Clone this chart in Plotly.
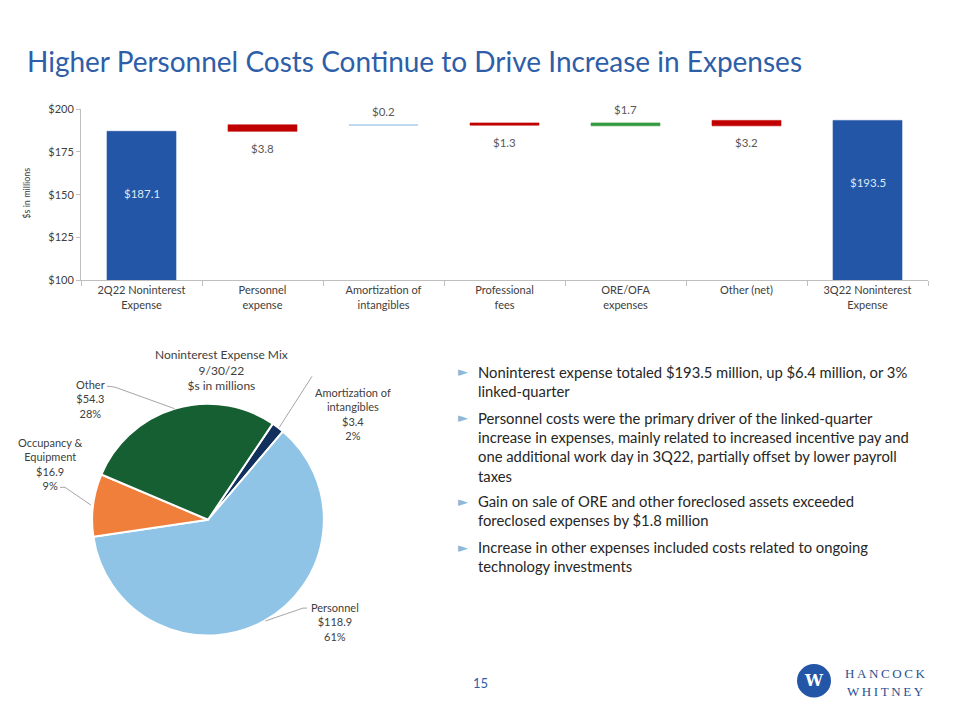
import math
import plotly.graph_objects as go

W, H = 960, 720
OFF = 8  # the page puts the figure 8px in from the top-left corner

# waterfall data ($ millions)
categories = ["2Q22 Noninterest<br>Expense", "Personnel<br>expense", "Amortization of<br>intangibles",
              "Professional<br>fees", "ORE/OFA<br>expenses", "Other (net)", "3Q22 Noninterest<br>Expense"]
start_total = 187.1
changes = [3.8, -0.2, 1.3, -1.7, 3.2]
end_total = 193.5
bar_colors = ["#2356a6", "#c00000", "#9dc3e6", "#c00000", "#339a3f", "#c00000", "#2356a6"]
y_ticks = [100, 125, 150, 175, 200]
y_tick_text = ["$100", "$125", "$150", "$175", "$200"]

# pie data
pie_labels = ["Amortization of<br>intangibles", "Personnel", "Occupancy &<br>Equipment", "Other"]
pie_values = [3.4, 118.9, 16.9, 54.3]
pie_pcts = [2, 61, 9, 28]
pie_colors = ["#12305e", "#8fc4e6", "#f07f3c", "#155f32"]

bullets = [
    "Noninterest expense totaled $193.5 million, up $6.4 million, or 3%<br>linked-quarter",
    "Personnel costs were the primary driver of the linked-quarter<br>increase in expenses, mainly related to increased incentive pay and<br>one additional work day in 3Q22, partially offset by lower payroll<br>taxes",
    "Gain on sale of ORE and other foreclosed assets exceeded<br>foreclosed expenses by $1.8 million",
    "Increase in other expenses included costs related to ongoing<br>technology investments",
]

FONT = "Lato"
GRAY = "#595959"
DARK = "#404040"
BLUE = "#2e5ea8"


def px(x):
    return (x - OFF) / W


def py(y):
    return 1 - (y - OFF) / H


def note(x, y, text, size, color, family=FONT, xa="center", ya="middle", **kw):
    return dict(x=px(x), y=py(y), xref="paper", yref="paper", text=text, showarrow=False,
                xanchor=xa, yanchor=ya, font=dict(family=family, size=size, color=color), **kw)


# bar bases and heights from the running total
bases, heights = [100], [start_total - 100]
running = start_total
for c in changes:
    bases.append(min(running, running + c))
    heights.append(abs(c))
    running += c
bases.append(100)
heights.append(end_total - 100)

fig = go.Figure()
fig.add_trace(go.Bar(
    x=categories, y=heights, base=bases, width=0.57,
    marker=dict(color=bar_colors, line=dict(color=bar_colors, width=0.6)),
    hoverinfo="skip", showlegend=False,
))

annotations = []
# totals inside the blue bars
for cat, val in [(categories[0], start_total), (categories[-1], end_total)]:
    annotations.append(dict(x=cat, y=val, xref="x", yref="y", text="$%.1f" % val, showarrow=False,
                            xanchor="center", yanchor="middle", yshift=-62,
                            font=dict(family=FONT, size=11.5, color="#dce9f8")))
# change labels: below increases, above decreases
running = start_total
for cat, c in zip(categories[1:-1], changes):
    shift = -17 if c > 0 else 13
    annotations.append(dict(x=cat, y=running, xref="x", yref="y", text="$%.1f" % abs(c),
                            showarrow=False, xanchor="center", yanchor="middle", yshift=shift,
                            font=dict(family=FONT, size=11.5, color=GRAY)))
    running += c

# pie
pie_x0, pie_x1, pie_y0, pie_y1 = 90, 326, 404, 640
rot = 34
fig.add_trace(go.Pie(
    labels=pie_labels, values=pie_values, sort=False, direction="clockwise", rotation=rot,
    marker=dict(colors=pie_colors, line=dict(color="white", width=2)),
    textinfo="none", hoverinfo="skip", showlegend=False,
    domain=dict(x=[px(pie_x0), px(pie_x1)], y=[py(pie_y1), py(pie_y0)]),
))

cx, cy = (pie_x0 + pie_x1) / 2, (pie_y0 + pie_y1) / 2
r = (pie_x1 - pie_x0) / 2
label_pos = [(353, 414), (335, 626), (50, 465), (90, 399)]
elbows = [[(312, 376)], [(303, 612), (307, 612)], [(65, 489), (60, 489)], [(115, 387), (107, 386)]]
shapes = []
total = sum(pie_values)
acc = 0
for lab, v, pct, (lx, ly), elb in zip(pie_labels, pie_values, pie_pcts, label_pos, elbows):
    mid = math.radians(rot + (acc + v / 2) / total * 360)
    acc += v
    pts = [(cx + r * math.sin(mid), cy - r * math.cos(mid))] + elb
    for (x0, y0), (x1, y1) in zip(pts[:-1], pts[1:]):
        shapes.append(dict(type="line", xref="paper", yref="paper", x0=px(x0), y0=py(y0),
                           x1=px(x1), y1=py(y1), line=dict(color="#a6a6a6", width=1)))
    annotations.append(note(lx, ly, "%s<br>$%.1f<br>%d%%" % (lab, v, pct), 11, DARK, align="center"))

annotations.append(note(221, 370, "Noninterest Expense Mix<br>9/30/22<br>$s in millions", 12, DARK,
                        align="center"))

# title
annotations.append(note(25, 55, "Higher Personnel Costs Continue to Drive Increase in Expenses", 28, BLUE,
                        xa="left"))
# axis title
annotations.append(note(27, 190, "$s in millions", 9, DARK, textangle=-90))

# bullets
tops = [360, 407, 492, 539]
for t, b in zip(tops, bullets):
    annotations.append(note(463, t + 11, "►", 13, "#8fb8d8", family="DejaVu Sans"))
    annotations.append(note(476, t, b, 14.8, "#262626", xa="left", ya="top", align="left"))

# page number and logo
annotations.append(note(480, 688, "15", 13, BLUE))
shapes.append(dict(type="circle", xref="paper", yref="paper", x0=px(797), x1=px(831), y0=py(703), y1=py(669),
                   fillcolor="#2356a6", line=dict(width=0)))
annotations.append(note(814, 686, "<b>W</b>", 16, "white", family="DejaVu Serif"))
for word, yy in [("HANCOCK", 679), ("WHITNEY", 697)]:
    annotations.append(note(885, yy, "\u2009".join(word), 13, "#2a4f8f", family="Liberation Serif"))

fig.update_layout(
    width=W, height=H, margin=dict(l=0, r=0, t=0, b=0),
    paper_bgcolor="white", plot_bgcolor="white",
    xaxis=dict(domain=[px(81), px(928)], showline=True, linecolor="#bfbfbf", linewidth=1,
               ticks="outside", tickson="boundaries", ticklen=5, tickcolor="#bfbfbf",
               tickfont=dict(family=FONT, size=11, color=DARK), showgrid=False, fixedrange=True),
    yaxis=dict(domain=[py(278), py(104)], range=[100, 200], tickmode="array", tickvals=y_ticks,
               ticktext=y_tick_text, showline=True, linecolor="#bfbfbf", linewidth=1, ticks="outside",
               ticklen=4, tickcolor="#bfbfbf", showgrid=False, zeroline=False,
               tickfont=dict(family=FONT, size=11, color=DARK), fixedrange=True),
    annotations=annotations, shapes=shapes,
)

fig.write_html("out.html")
